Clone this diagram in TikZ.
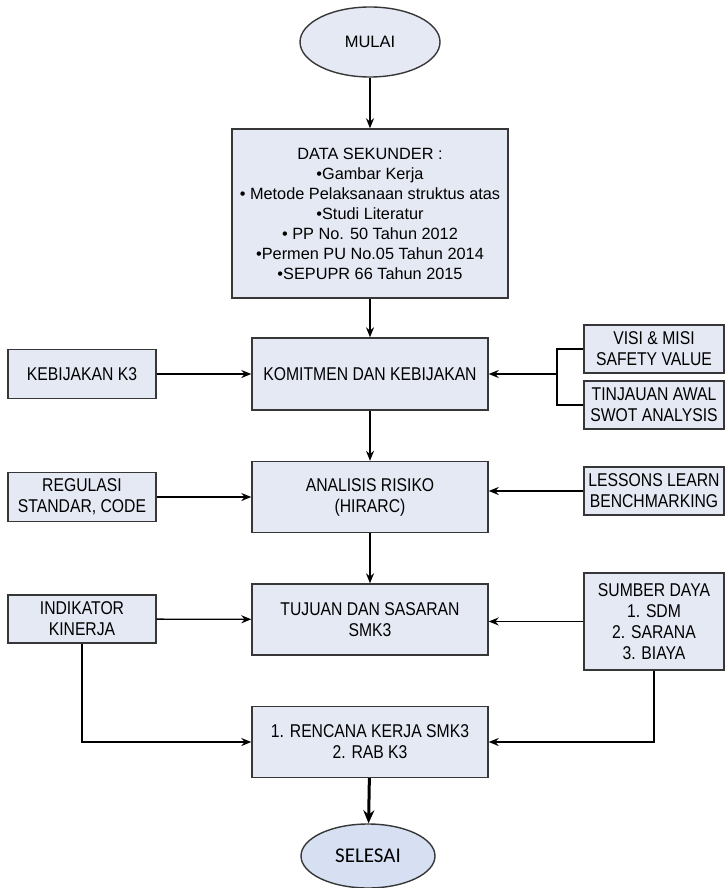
\documentclass[tikz,border=0pt]{standalone}
\usepackage{fontspec}
\setmainfont{Liberation Sans}
\newfontfamily\narrowfont[FakeStretch=0.85]{Liberation Sans}
\newfontfamily\endfont{Carlito}
\usetikzlibrary{shapes.geometric,arrows.meta}

\definecolor{boxfill}{RGB}{229,233,244}
\definecolor{endfill}{RGB}{214,224,242}
\definecolor{edgegray}{RGB}{55,55,55}

\begin{document}
\begin{tikzpicture}[x=1pt,y=-1pt,>={Stealth[length=10pt,width=8pt]},line width=1.3pt,
  box/.style={rectangle,draw=edgegray,line width=1.4pt,fill=boxfill,inner sep=0pt,align=center,
    font=\narrowfont\fontsize{18.5}{21}\selectfont},
  mainbox/.style={box,minimum width=236pt,minimum height=71pt},
  sidebox/.style={box,minimum width=148pt,minimum height=49pt},
  rightbox/.style={box,minimum width=140pt,minimum height=48pt},
  terminal/.style={ellipse,draw=edgegray,line width=1.4pt,inner sep=0pt}]

\useasboundingbox (0,0) rectangle (726,888);

\node [terminal,fill=boxfill,minimum width=140pt,minimum height=70pt,font=\fontsize{16.5}{19}\selectfont] (mulai) at (370,42) {MULAI};

\node [box,minimum width=276pt,minimum height=169pt,font=\fontsize{16.3}{20}\selectfont] (data) at (370,213.5)
  {DATA SEKUNDER :\\ •Gambar Kerja\\ • Metode Pelaksanaan struktus atas\\ •Studi Literatur\\
   • PP No. 50 Tahun 2012\\ •Permen PU No.05 Tahun 2014\\ •SEPUPR 66 Tahun 2015};

\node [mainbox,minimum height=72pt] (komit) at (370,374) {KOMITMEN DAN KEBIJAKAN};
\node [mainbox] (analisis) at (370,497) {ANALISIS RISIKO\\ (HIRARC)};
\node [mainbox] (tujuan) at (370,619.5) {TUJUAN DAN SASARAN\\ SMK3};
\node [mainbox] (rencana) at (370,742) {1. RENCANA KERJA SMK3\\ 2. RAB K3};

\node [terminal,fill=endfill,minimum width=134pt,minimum height=64pt,font=\endfont\fontsize{21}{24}\selectfont] (selesai) at (368,856) {SELESAI};

\node [sidebox] (kebijakan) at (82,374) {KEBIJAKAN K3};
\node [sidebox] (regulasi) at (82,497) {REGULASI\\ STANDAR, CODE};
\node [sidebox,minimum height=48pt] (indikator) at (82,619) {INDIKATOR\\ KINERJA};

\node [rightbox] (visi) at (654,349) {VISI \& MISI\\ SAFETY VALUE};
\node [rightbox] (tinjauan) at (654,405) {TINJAUAN AWAL\\ SWOT ANALYSIS};
\node [rightbox] (lessons) at (654,491) {LESSONS LEARN\\ BENCHMARKING};
\node [rightbox,minimum height=97pt] (sumber) at (654,621.5) {SUMBER DAYA\\ 1. SDM\\ 2. SARANA\\ 3. BIAYA};

\coordinate (brk) at (557,374);

% main column
\draw [->] (mulai) -- (data);
\draw [->] (data) -- (komit);
\draw [->] (komit) -- (analisis);
\draw [->] (analisis) -- (tujuan);
\draw [->,line width=3pt,>={Stealth[length=13pt,width=11pt]}] (rencana) -- (selesai);

% inputs from the sides
\draw [->] (kebijakan) -- (komit);
\draw (visi.west) -| (brk) |- (tinjauan.west);
\draw [->] (brk) -- (komit.east);
\draw [->] (regulasi) -- (analisis);
\draw [->] (lessons.west) -- (lessons.west -| analisis.east);
\draw [->] (indikator) -- (tujuan);
\draw [->] (sumber.west) -- (sumber.west -| tujuan.east);
\draw [->] (indikator.south) |- (rencana.west);
\draw [->] (sumber.south) |- (rencana.east);

\end{tikzpicture}
\end{document}
